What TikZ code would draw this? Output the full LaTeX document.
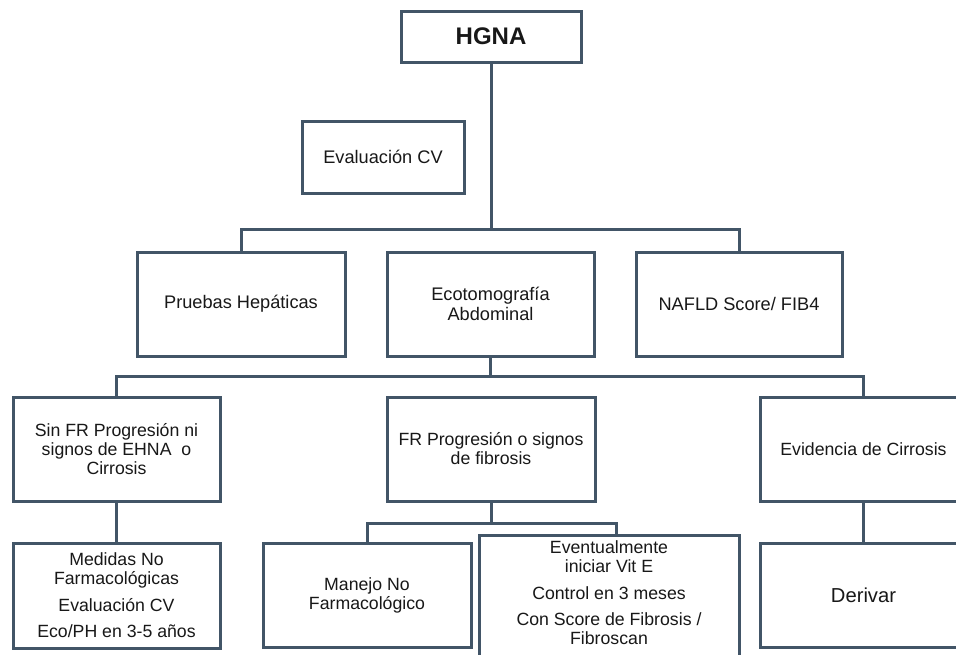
\documentclass[tikz,border=0pt]{standalone}
\usepackage{fontspec}
\setmainfont{Liberation Sans}
\definecolor{lc}{RGB}{66,85,103}
\definecolor{tc}{RGB}{24,24,24}
\tikzset{
  box/.style={draw=lc, line width=3pt, fill=white, align=center, inner sep=0pt, text=tc},
  upf/.style={font=\fontsize{18.2}{19.5}\selectfont},
  lof/.style={font=\fontsize{17.7}{19}\selectfont},
  conn/.style={draw=lc, line width=3pt, line join=miter}
}
\begin{document}
\begin{tikzpicture}[x=1pt,y=-1pt]
\useasboundingbox (0,0) rectangle (956,654);
\clip (0,0) rectangle (956,654);
\fill[white] (0,0) rectangle (956,654);

% top
\node[box, minimum width=180, minimum height=51, font=\fontsize{24}{26}\selectfont\bfseries] (hgna) at (491,36.5) {HGNA};
\node[box, upf, minimum width=162, minimum height=72] (evcv) at (383,157) {Evaluación CV};

% level 2
\node[box, upf, minimum width=208, minimum height=104] (pruebas) at (241,304) {Pruebas Hepáticas};
\node[box, upf, minimum width=207, minimum height=104] (eco) at (490.5,304) {Ecotomografía\\Abdominal};
\node[box, upf, minimum width=206, minimum height=104] (nafld) at (739,304) {NAFLD Score/ FIB4};

% level 3
\node[box, lof, minimum width=207, minimum height=104] (sinfr) at (116.5,449) {Sin FR Progresión ni\\signos de EHNA~~o\\Cirrosis};
\node[box, lof, minimum width=208, minimum height=104] (frp) at (491,449) {FR Progresión o signos\\de fibrosis};
\node[box, lof, minimum width=207, minimum height=104] (evid) at (863.5,449) {Evidencia de Cirrosis};

% level 4
\node[box, lof, minimum width=207, minimum height=105] (medidas) at (116.5,595.5) {Medidas No\\Farmacológicas\\[7.5pt]Evaluación CV\\[7.5pt]Eco/PH en 3-5 años};
\node[box, lof, minimum width=208, minimum height=104] (manejo) at (367,595) {Manejo No\\Farmacológico};
\node[box, minimum width=260, minimum height=130, anchor=north] (event) at (609,534) {};
\node[lof, align=center, inner sep=0pt, text=tc, anchor=north] (eventtxt) at (609,540.5) {Eventualmente\\iniciar Vit E\\[7.5pt]Control en 3 meses\\[7.5pt]Con Score de Fibrosis /\\Fibroscan};
\node[box, minimum width=207, minimum height=104, font=\fontsize{20.2}{22}\selectfont] (derivar) at (863.5,595) {Derivar};

% bus coordinates
\coordinate (b1) at (491,229);
\coordinate (b2) at (490.5,376);
\coordinate (b3) at (491,523);
\coordinate (b3r) at (616,523);

% connectors
\draw[conn] (hgna.south) -- (b1);
\draw[conn] (pruebas.north) |- (b1) -| (nafld.north);
\draw[conn] (eco.south) -- (b2);
\draw[conn] (sinfr.north) |- (b2) -| (evid.north);
\draw[conn] (sinfr.south) -- (medidas.north);
\draw[conn] (frp.south) -- (b3);
\draw[conn] (manejo.north) |- (b3r) -- (b3r |- event.north);
\draw[conn] (evid.south) -- (derivar.north);
\end{tikzpicture}
\end{document}
